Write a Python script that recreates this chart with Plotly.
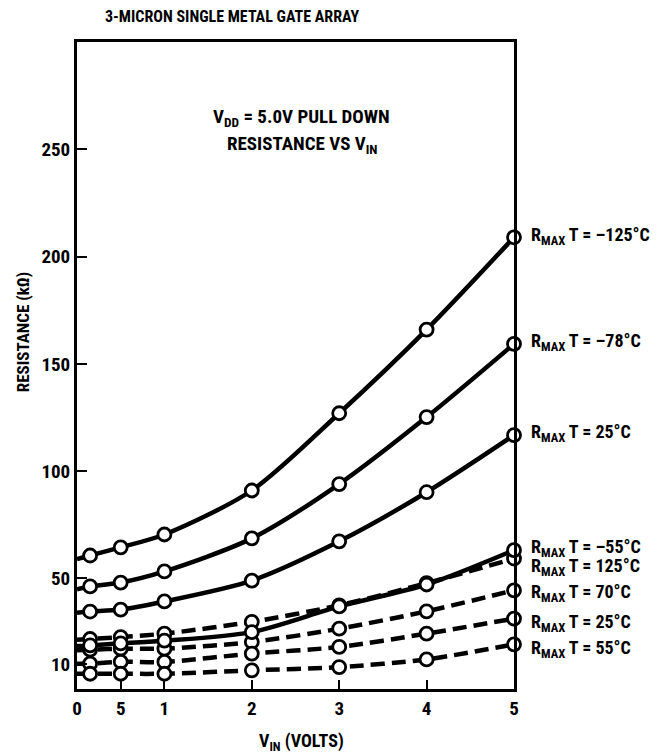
import plotly.graph_objects as go

# ---- data ----
X = [0, 0.15, 0.5, 1, 2, 3, 4, 5]          # V_IN (volts); first entry = curve start at the axis

R_M125 = [59, 60.7, 64.5, 70.5, 91, 127, 166, 209]
R_M78 = [45, 46.3, 48.1, 53.3, 68.7, 94, 125.2, 159.3]
R_25_SOLID = [34, 34.6, 35.5, 39.3, 49, 67.3, 90.2, 116.8]
R_M55 = [18.5, 18.8, 19.8, 21, 25, 37, 47.2, 63.2]
R_125 = [21.5, 21.8, 22.7, 24.3, 29.8, 37.5, 47.8, 59.3]
R_70 = [16.5, 16.8, 17.3, 17.3, 20.4, 26.6, 34.7, 44.5]
R_25_DASH = [10.3, 10.3, 11.2, 11.1, 15.0, 18.1, 24.3, 31.3]
R_55 = [5.6, 5.6, 5.6, 5.6, 7.2, 8.7, 12.3, 19.3]

LABELS = ["–125°C", "–78°C", "25°C", "125°C", "70°C", "25°C", "55°C", "–55°C"]
VALUES = [R_M125, R_M78, R_25_SOLID, R_125, R_70, R_25_DASH, R_55, R_M55]
STYLES = ["solid", "solid", "solid", "dash", "dash", "dash", "dash", "solid"]
LABEL_YSHIFT = [1, 2, 2, -8, -3, -4, -5, 2]   # pixel nudges for the right-hand labels

X_TICKS = [0, 0.5, 1, 2, 3, 4, 5]
X_TICK_TEXT = ["0", "5", "1", "2", "3", "4", "5"]
Y_TICKS = [10, 50, 100, 150, 200, 250]
Y_TICK_TEXT = ["10", "50", "100", "150", "200", "250"]

FONT = "Roboto Condensed, Open Sans Condensed, Liberation Sans Narrow, sans-serif"

fig = go.Figure()
for vals, style in zip(VALUES, STYLES):
    fig.add_trace(go.Scatter(
        x=X, y=vals, mode="lines",
        line=dict(color="black", width=4.5,
                  dash="14px,7px" if style == "dash" else "solid",
                  shape="spline", smoothing=0.8),
        hoverinfo="skip", showlegend=False, cliponaxis=True))
for vals in VALUES:
    fig.add_trace(go.Scatter(
        x=X[1:], y=vals[1:], mode="markers",
        marker=dict(size=13, color="white", line=dict(color="black", width=2.8)),
        showlegend=False, cliponaxis=False))

annotations = []
for name, vals, dy in zip(LABELS, VALUES, LABEL_YSHIFT):
    annotations.append(dict(
        x=X[-1], y=vals[-1], xref="x", yref="y",
        text="R<sub>MAX</sub> T = " + name,
        showarrow=False, xanchor="left", yanchor="middle",
        xshift=15, yshift=dy,
        font=dict(family=FONT, size=18, color="black", weight="bold")))

annotations.append(dict(
    x=0.355, y=1.040, xref="paper", yref="paper",
    text="3-MICRON SINGLE METAL GATE ARRAY", showarrow=False,
    xanchor="center", yanchor="middle",
    font=dict(family=FONT, size=16, color="black", weight="bold")))
annotations.append(dict(
    x=0.513, y=0.884, xref="paper", yref="paper",
    text="V<sub>DD</sub> = 5.0V PULL DOWN",
    showarrow=False, xanchor="center", yanchor="middle",
    font=dict(family=FONT, size=19, color="black", weight="bold")))
annotations.append(dict(
    x=0.517, y=0.841, xref="paper", yref="paper",
    text="RESISTANCE VS V<sub>IN</sub>",
    showarrow=False, xanchor="center", yanchor="middle",
    font=dict(family=FONT, size=19, color="black", weight="bold")))
annotations.append(dict(
    x=-0.125, y=0.552, xref="paper", yref="paper",
    text="RESISTANCE (kΩ)", textangle=-90, showarrow=False,
    xanchor="center", yanchor="middle",
    font=dict(family=FONT, size=17, color="black", weight="bold")))
annotations.append(dict(
    x=0.513, y=-0.082, xref="paper", yref="paper",
    text="V<sub>IN</sub> (VOLTS)", showarrow=False,
    xanchor="center", yanchor="middle",
    font=dict(family=FONT, size=18, color="black", weight="bold")))

fig.update_layout(
    width=654, height=746,
    margin=dict(l=69, r=148, t=34, b=65),
    paper_bgcolor="white", plot_bgcolor="white",
    annotations=annotations,
    showlegend=False,
)
fig.update_xaxes(
    range=[0, 5], showgrid=False, zeroline=False,
    showline=True, linecolor="black", linewidth=3, mirror=True,
    tickmode="array", tickvals=X_TICKS, ticktext=X_TICK_TEXT,
    ticks="inside", ticklen=9, tickwidth=2, tickcolor="black",
    tickfont=dict(family=FONT, size=19, color="black", weight="bold"),
)
fig.update_yaxes(
    range=[-1.5, 300], showgrid=False, zeroline=False,
    showline=True, linecolor="black", linewidth=3, mirror=True,
    tickmode="array", tickvals=Y_TICKS, ticktext=Y_TICK_TEXT,
    ticks="inside", ticklen=10, tickwidth=2, tickcolor="black",
    tickfont=dict(family=FONT, size=19, color="black", weight="bold"),
)

fig.write_html("out.html")
